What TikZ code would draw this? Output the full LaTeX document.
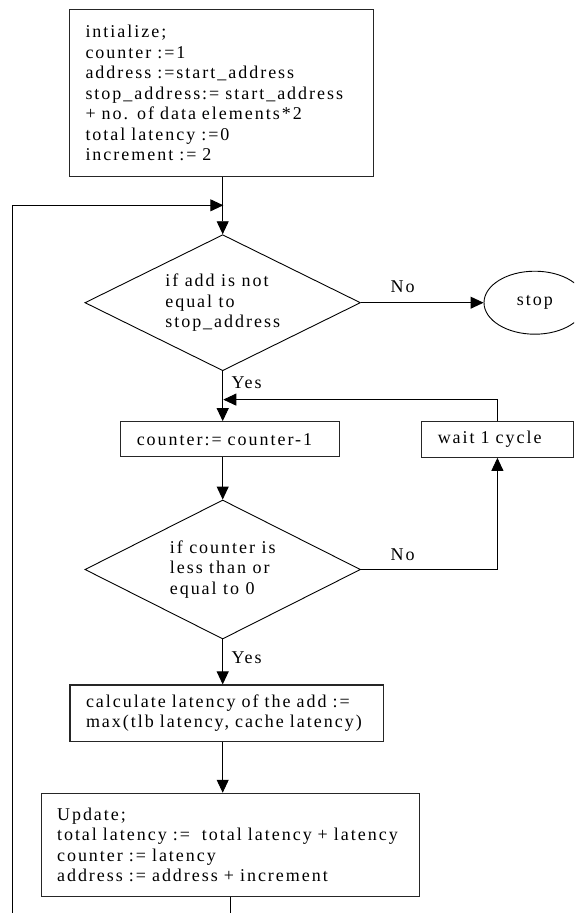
\documentclass[tikz,border=0pt]{standalone}
\usepackage{fontspec}
\setmainfont{Liberation Serif}[LetterSpace=11]
\usetikzlibrary{arrows.meta,shapes.geometric}

\begin{document}
\begin{tikzpicture}[x=1pt,y=-1pt,
  every node/.style={font=\fontsize{18}{20.5}\selectfont},
  box/.style={draw=black!85, line width=1.1pt, rectangle, inner xsep=16pt, inner ysep=0pt, align=left},
  decision/.style={draw=black, line width=0.9pt, diamond, shape aspect=2.03, inner sep=0pt, align=left,
    minimum width=275.6pt, minimum height=136pt},
  terminal/.style={draw=black, line width=0.9pt, ellipse, inner sep=0pt, minimum width=101.6pt, minimum height=63pt},
  arr/.style={draw=black, line width=0.9pt, -{Triangle[length=13pt,width=12pt]}},
  conn/.style={draw=black, line width=0.9pt},
  lbl/.style={inner sep=0pt}
]
\path[use as bounding box] (0,0) rectangle (574,913);
\clip (0,0) rectangle (574,913);
\fill[white] (0,0) rectangle (574,913);

% process boxes and decisions
\node[box, text width=271.8pt, minimum height=167.7pt] (init) at (221.4,92.9)
  {intialize;\\
   counter :=1\\
   address :=start\_address\\
   stop\_address:= start\_address\\
   + no. of data elements*2\\
   total latency :=0\\
   increment := 2};

\node[decision] (d1) at (222.7,302.7) {if add is not\\equal to\\stop\_address};

\node[terminal] (stop) at (534.8,302.7) {stop};

\node[box, text width=186.5pt, minimum height=35pt] (cnt) at (230,439.2) {counter:= counter-1};

\node[box, text width=119.3pt, minimum height=35.6pt] (wait) at (497.4,439.5) {wait 1 cycle};

\node[decision, minimum height=139pt] (d2) at (222.7,569.5) {if counter is\\less than or\\equal to 0};

\node[box, text width=281.2pt, minimum height=56.7pt] (calc) at (226.6,713.3)
  {calculate latency of the add :=\\max(tlb latency, cache latency)};

\node[box, text width=346.3pt, minimum height=103.4pt] (upd) at (230.2,845)
  {Update;\\
   total latency := \ total latency + latency\\
   counter := latency\\
   address := address + increment};

% branch labels
\node[lbl] (no1) at (402.7,286.7) {No};
\node[lbl, anchor=west] (yes1) at (231.3,382.7) {Yes};
\node[lbl] (no2) at (402.7,555) {No};
\node[lbl, anchor=west] (yes2) at (231.3,657.3) {Yes};

% junction points and loose ends
\coordinate (j1) at (223.3,205.3);
\coordinate (j2) at (223.3,399.6);
\coordinate (lb) at (12.5,925);
\coordinate (ub) at (230.2,925);

% connectors
\draw[arr] (d1.north |- init.south) -- (d1.north);
\draw[arr] (lb) |- (j1);
\draw[arr] (d1.east) -- (stop.west);
\draw[arr] (d1.south) -- (d1.south |- cnt.north);
\draw[arr] (wait.north) |- (j2);
\draw[arr] (d2.north |- cnt.south) -- (d2.north);
\draw[arr] (d2.east) -| (wait.south);
\draw[arr] (d2.south) -- (d2.south |- calc.north);
\draw[arr] (d2.south |- calc.south) -- (d2.south |- upd.north);
\draw[conn] (upd.south) -- (ub);
\end{tikzpicture}
\end{document}
